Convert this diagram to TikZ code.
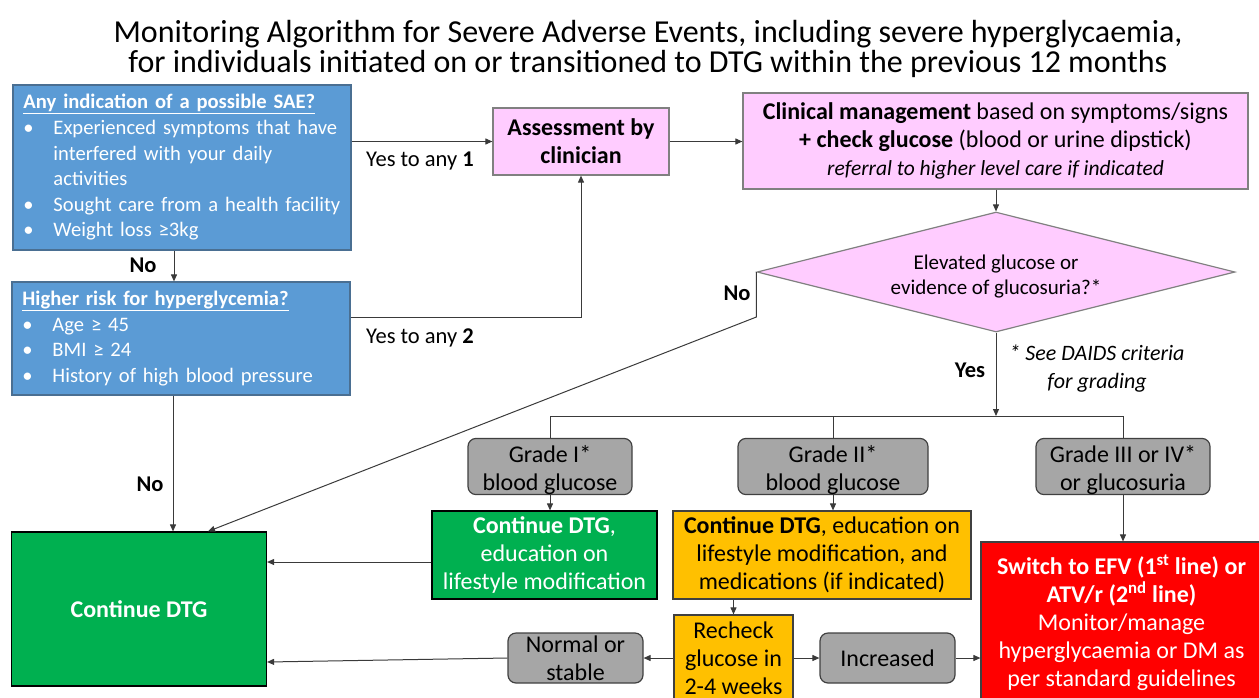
\documentclass[tikz,border=0pt]{standalone}
\usepackage{fontspec}
\setmainfont{Carlito}
\usetikzlibrary{shapes.geometric,arrows.meta,calc}
\definecolor{bluefill}{HTML}{5B9BD5}
\definecolor{blueline}{HTML}{4A6F92}
\definecolor{pinkfill}{HTML}{FFCCFF}
\definecolor{greenfill}{HTML}{00B050}
\definecolor{orangefill}{HTML}{FFC000}
\definecolor{redfill}{HTML}{FF0000}
\definecolor{grayfill}{HTML}{A6A6A6}
\definecolor{edgecol}{HTML}{404040}
\definecolor{linecol}{HTML}{3A3A3A}
\newcommand{\mybul}{\hspace*{9pt}\makebox[30pt][l]{•}}
\newcommand{\myind}{\hspace*{39pt}}
\newcommand{\mylead}{\hspace*{9pt}}
\newcommand{\lowstrut}{\rule{0pt}{24pt}}
\begin{document}
\begin{tikzpicture}[x=1pt,y=-1pt,
  box/.style={draw=edgecol, line width=1.2pt, inner sep=0pt, align=center,
     font=\fontsize{24}{28}\selectfont},
  bluebox/.style={box, draw=blueline, fill=bluefill, text=white, align=left,
     inner xsep=0pt, font=\fontsize{20.6}{25.6}\selectfont},
  pinkbox/.style={box, draw=gray, fill=pinkfill},
  greenbox/.style={box, draw=black, fill=greenfill, text=white},
  orangebox/.style={box, fill=orangefill},
  redbox/.style={box, draw=edgecol, fill=redfill, text=white},
  graybox/.style={box, fill=grayfill, rounded corners=8pt},
  lbl/.style={inner sep=0pt, font=\fontsize{22.5}{27}\selectfont},
  arrow/.style={draw=linecol, line width=1pt, -{Triangle[length=7pt,width=6pt]}},
  plain/.style={draw=linecol, line width=1pt}
]
\useasboundingbox (0,0) rectangle (1259,697);
\clip (0,0) rectangle (1259,697);

% title
\node[inner sep=0pt, align=center, font=\fontsize{32}{30}\selectfont] (title) at (648,49)
 {Monitoring Algorithm for Severe Adverse Events, including severe hyperglycaemia,\\
  for individuals initiated on or transitioned to DTG within the previous 12 months};

% left blue boxes
\node[bluebox, minimum width=338pt, minimum height=165pt, text width=335pt] (sae) at (182,167.5)
 {\mylead\textbf{\underline{Any indication of a possible SAE?}}\\
  \mybul Experienced symptoms that have\\
  \myind interfered with your daily\\
  \myind activities\\
  \mybul Sought care from a health facility\\
  \mybul Weight loss ≥3kg};
\node[bluebox, minimum width=338pt, minimum height=113pt, text width=335pt] (risk) at (181,338.5)
 {\mylead\textbf{\underline{Higher risk for hyperglycemia?}}\\
  \mybul Age ≥ 45\\
  \mybul BMI ≥ 24\\
  \mybul History of high blood pressure};

% pink boxes
\node[pinkbox, minimum width=176pt, minimum height=67pt] (assess) at (581,141.5)
 {\textbf{Assessment by}\\\textbf{clinician}};
\node[pinkbox, minimum width=505pt, minimum height=96pt] (clin) at (995.5,141)
 {\textbf{Clinical management} based on symptoms/signs\\
  \textbf{+ check glucose} (blood or urine dipstick)\\
  {\fontsize{21.5}{27}\selectfont\itshape referral to higher level care if indicated}};
\node[diamond, draw=gray, line width=1.2pt, fill=pinkfill, shape aspect=4, inner sep=0pt,
      minimum width=478pt, minimum height=120pt, align=center,
      font=\fontsize{21}{25}\selectfont] (diam) at (996,272)
 {\lowstrut Elevated glucose or\\evidence of glucosuria?*};

% grade boxes
\node[graybox, minimum width=164pt, minimum height=51pt] (gI) at (550,466.5)
 {\lowstrut Grade I*\\blood glucose};
\node[graybox, minimum width=190pt, minimum height=51pt] (gII) at (833,466.5)
 {\lowstrut Grade II*\\blood glucose};
\node[graybox, minimum width=174pt, minimum height=51pt] (gIII) at (1123,466.5)
 {\lowstrut Grade III or IV*\\or glucosuria};

% action boxes
\node[greenbox, minimum width=225pt, minimum height=88pt] (green) at (544.5,555)
 {\textbf{Continue DTG},\\education on\\lifestyle modification};
\node[orangebox, minimum width=298pt, minimum height=88pt] (orange) at (822,555)
 {\textbf{Continue DTG}, education on\\lifestyle modification, and\\medications (if indicated)};
\node[redbox, minimum width=281pt, minimum height=161pt] (red) at (1121.5,622.5)
 {\textbf{Switch to EFV (1\textsuperscript{st} line) or}\\
  \textbf{ATV/r (2\textsuperscript{nd} line)}\\
  Monitor/manage\\hyperglycaemia or DM as\\per standard guidelines};
\node[orangebox, minimum width=119pt, minimum height=86pt] (recheck) at (733.5,658)
 {Recheck\\glucose in\\2-4 weeks};
\node[graybox, minimum width=135pt, minimum height=50pt] (normal) at (575.5,658)
 {Normal or\\stable};
\node[graybox, minimum width=135pt, minimum height=50pt] (inc) at (887.5,658)
 {Increased};
\node[greenbox, minimum width=255pt, minimum height=154pt] (cont) at (139,609)
 {\textbf{Continue DTG}};

% labels
\node[lbl] (yes1) at (420,161) {Yes to any \textbf{1}};
\node[lbl] (yes2) at (420,338) {Yes to any \textbf{2}};
\node[lbl] (no1) at (143,265) {\textbf{No}};
\node[lbl] (no2) at (150,484) {\textbf{No}};
\node[lbl] (no3) at (737,293) {\textbf{No}};
\node[lbl] (yes3) at (970,370) {\textbf{Yes}};
\node[lbl, align=center, font=\fontsize{22}{28}\selectfont\itshape] (note) at (1097,369)
 {* See DAIDS criteria\\for grading};

% connectors
\coordinate (split) at (996,416);
\draw[arrow] (sae.east |- assess.west) -- (assess.west);
\draw[arrow] (risk.east |- 0,317) -| (assess.south);
\draw[arrow] (assess.east) -- (clin.west |- assess.east);
\draw[arrow] (sae.south -| 174,0) -- (risk.north -| 174,0);
\draw[arrow] (clin.south -| diam.north) -- (diam.north);
\draw[arrow] (diam.west) -- ++(0,45) -- (cont.north -| 208,0);
\draw[arrow] (diam.south) -- (split);
\draw[plain] (gI.north) -- (gI.north |- split) -- (gIII.north |- split) -- (gIII.north);
\draw[plain] (gII.north) -- (gII.north |- split);
\draw[arrow] (gI.south) -- (gI.south |- green.north);
\draw[arrow] (gII.south) -- (gII.south |- orange.north);
\draw[arrow] (gIII.south) -- (gIII.south |- red.north);
\draw[arrow] (orange.south -| recheck.north) -- (recheck.north);
\draw[arrow] (recheck.west |- normal.east) -- (normal.east);
\draw[arrow] (recheck.east |- inc.west) -- (inc.west);
\draw[arrow] (inc.east) -- (red.west |- inc.east);
\draw[arrow] (normal.west) -- (cont.east |- 0,662);
\draw[arrow] (green.west |- 0,562) -- (cont.east |- 0,562);
\draw[arrow] (risk.south -| 173,0) -- (cont.north -| 173,0);
\end{tikzpicture}
\end{document}
